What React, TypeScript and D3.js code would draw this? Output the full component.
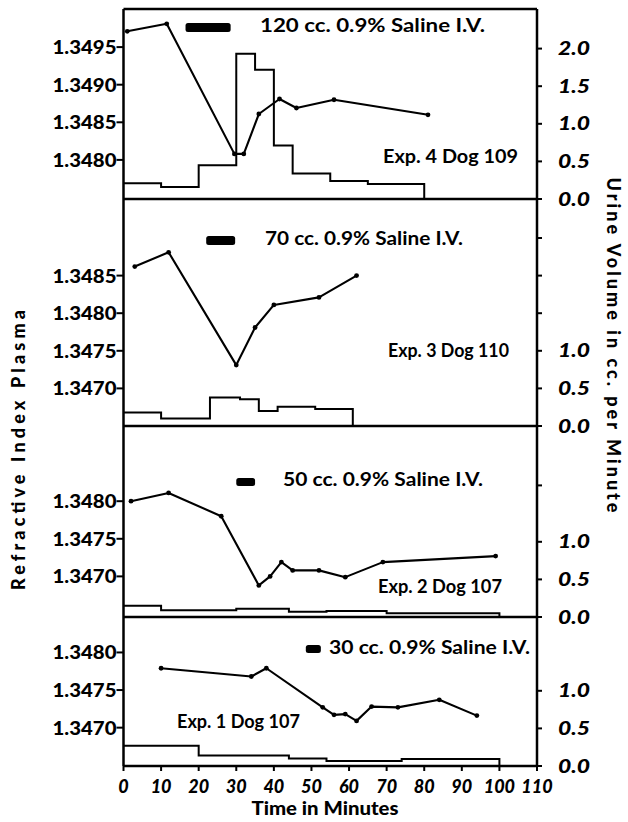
import React from "react";
import * as d3 from "d3";

// ---------- data ----------
const timeTicks = [0, 10, 20, 30, 40, 50, 60, 70, 80, 90, 100, 110];

// Exp. 4 Dog 109
const exp4Times = [1, 11.5, 29.5, 32, 36, 41.5, 46, 56, 81];
const exp4Refractive = [1.34971, 1.34981, 1.34808, 1.34808, 1.34861, 1.34881, 1.34869, 1.3488, 1.3486];
const exp4UrineEdges = [0, 10, 20, 30, 35, 40, 45, 55, 65, 80];
const exp4Urine = [0.21, 0.16, 0.45, 1.93, 1.72, 0.71, 0.34, 0.24, 0.2];
const exp4Infusion = [16.5, 28.5];
const exp4RefTicks = [1.348, 1.3485, 1.349, 1.3495];
const exp4UrineTicks = [0, 0.5, 1, 1.5, 2];
const exp4UrineLabels = ["0.0", "0.5", "1.0", "1.5", "2.0"];

// Exp. 3 Dog 110
const exp3Times = [3, 12, 30, 35, 40, 52, 62];
const exp3Refractive = [1.34862, 1.34881, 1.34731, 1.34781, 1.34811, 1.34821, 1.3485];
const exp3UrineEdges = [0, 10, 23, 31, 36, 41, 51, 61];
const exp3Urine = [0.18, 0.1, 0.38, 0.355, 0.2, 0.257, 0.226];
const exp3Infusion = [22, 29.7];
const exp3RefTicks = [1.347, 1.3475, 1.348, 1.3485];
const exp3UrineTicks = [0, 0.5, 1, 1.5, 2, 2.5];
const exp3UrineLabels = ["0.0", "0.5", "1.0", "", "", ""];

// Exp. 2 Dog 107
const exp2Times = [2, 12, 26, 36, 39, 42, 45, 52, 59, 69, 99];
const exp2Refractive = [1.348, 1.34811, 1.3478, 1.34688, 1.347, 1.34719, 1.34708, 1.34708, 1.34699, 1.34719, 1.34727];
const exp2UrineEdges = [0, 10, 30, 44, 54, 70, 100];
const exp2Urine = [0.15, 0.09, 0.11, 0.07, 0.08, 0.05];
const exp2Infusion = [30, 35];
const exp2RefTicks = [1.347, 1.3475, 1.348];
const exp2UrineTicks = [0, 0.5, 1, 1.75];
const exp2UrineLabels = ["0.0", "0.5", "1.0", ""];

// Exp. 1 Dog 107
const exp1Times = [10, 34, 38, 53, 56, 59, 62, 66, 73, 84, 94];
const exp1Refractive = [1.34779, 1.34768, 1.34779, 1.34727, 1.34717, 1.34718, 1.34709, 1.34728, 1.34727, 1.34737, 1.34716];
const exp1UrineEdges = [0, 20, 44, 54, 74, 100];
const exp1Urine = [0.27, 0.14, 0.1, 0.067, 0.093];
const exp1Infusion = [48.5, 52.5];
const exp1RefTicks = [1.347, 1.3475, 1.348];
const exp1UrineTicks = [0, 0.5, 1];
const exp1UrineLabels = ["0.0", "0.5", "1.0"];

const salineLabels = ["120 cc. 0.9% Saline I.V.", "70 cc. 0.9% Saline I.V.", "50 cc. 0.9% Saline I.V.", "30 cc. 0.9% Saline I.V."];
const expLabels = ["Exp. 4 Dog 109", "Exp. 3 Dog 110", "Exp. 2 Dog 107", "Exp. 1 Dog 107"];

// ---------- layout ----------
const W = 628;
const H = 822;
const X0 = 123.5;
const X1 = 537;
const PX = 75.2; // px per 1.0 cc/min and per 0.001 refractive index
const FONT = "Lato, 'DejaVu Sans', sans-serif";

const panelLayout = [
  { top: 9, bottom: 199, refBase: 1.34748, barY: 23, barH: 9, salX: 260, salY: 32, salLen: 225, expX: 383, expY: 163, expLen: 135 },
  { top: 199, bottom: 426, refBase: 1.3465, barY: 236, barH: 9, salX: 265, salY: 245, salLen: 198, expX: 388, expY: 357, expLen: 121 },
  { top: 426, bottom: 617, refBase: 1.34646, barY: 478, barH: 8, salX: 283, salY: 486, salLen: 200, expX: 378, expY: 593, expLen: 124 },
  { top: 617, bottom: 766, refBase: 1.34649, barY: 645, barH: 8, salX: 329, salY: 654, salLen: 201, expX: 177, expY: 728, expLen: 123 },
];

const panelData = [
  { times: exp4Times, ri: exp4Refractive, edges: exp4UrineEdges, urine: exp4Urine, inf: exp4Infusion, riTicks: exp4RefTicks, uTicks: exp4UrineTicks, uLabels: exp4UrineLabels },
  { times: exp3Times, ri: exp3Refractive, edges: exp3UrineEdges, urine: exp3Urine, inf: exp3Infusion, riTicks: exp3RefTicks, uTicks: exp3UrineTicks, uLabels: exp3UrineLabels },
  { times: exp2Times, ri: exp2Refractive, edges: exp2UrineEdges, urine: exp2Urine, inf: exp2Infusion, riTicks: exp2RefTicks, uTicks: exp2UrineTicks, uLabels: exp2UrineLabels },
  { times: exp1Times, ri: exp1Refractive, edges: exp1UrineEdges, urine: exp1Urine, inf: exp1Infusion, riTicks: exp1RefTicks, uTicks: exp1UrineTicks, uLabels: exp1UrineLabels },
];

const x = d3.scaleLinear().domain([0, 110]).range([X0, X1]);

function Panel({ i }: { i: number }) {
  const L = panelLayout[i];
  const D = panelData[i];
  const hgt = L.bottom - L.top;
  const yRI = d3.scaleLinear().domain([L.refBase, L.refBase + (hgt / PX) * 0.001]).range([L.bottom, L.top]);
  const yU = d3.scaleLinear().domain([0, hgt / PX]).range([L.bottom, L.top]);

  const pts: [number, number][] = D.times.map((t, k) => [x(t), yRI(D.ri[k])]);
  const line = d3.line()(pts) || "";

  const stepPts: [number, number][] = [];
  D.urine.forEach((v, k) => {
    stepPts.push([x(D.edges[k]), yU(v)]);
    stepPts.push([x(D.edges[k + 1]), yU(v)]);
  });
  stepPts.push([x(D.edges[D.edges.length - 1]), yU(0)]);
  const step = d3.line()(stepPts) || "";

  return (
    <g>
      <path d={step} fill="none" stroke="#000" strokeWidth={2} strokeLinejoin="miter" />
      <path d={line} fill="none" stroke="#000" strokeWidth={2.1} strokeLinejoin="round" />
      {pts.map((p, k) => (
        <circle key={k} cx={p[0]} cy={p[1]} r={2.4} fill="#000" />
      ))}
      <rect x={x(D.inf[0])} y={L.barY} width={x(D.inf[1]) - x(D.inf[0])} height={L.barH} rx={2.5} fill="#000" />
      <text x={L.salX} y={L.salY} fontFamily={FONT} fontWeight={700} fontSize={19} textLength={L.salLen} lengthAdjust="spacingAndGlyphs">{salineLabels[i]}</text>
      <text x={L.expX} y={L.expY} fontFamily={FONT} fontWeight={700} fontSize={19} textLength={L.expLen} lengthAdjust="spacingAndGlyphs">{expLabels[i]}</text>
      {/* left ticks */}
      {D.riTicks.map((t) => (
        <g key={"l" + t}>
          <line x1={X0 - 7} x2={X0} y1={yRI(t)} y2={yRI(t)} stroke="#000" strokeWidth={2} />
          <text x={X0 - 7} y={yRI(t) + 7} textAnchor="end" fontFamily={FONT} fontWeight={900} fontSize={19} textLength={64} lengthAdjust="spacingAndGlyphs">{t.toFixed(4)}</text>
        </g>
      ))}
      {/* right ticks */}
      {D.uTicks.map((t, k) => (
        <g key={"r" + t}>
          <line x1={X1} x2={X1 + 5} y1={yU(t)} y2={yU(t)} stroke="#000" strokeWidth={2} />
          {D.uLabels[k] && (
            <text x={558} y={yU(t) + 6.5} fontFamily={FONT} fontWeight={900} fontStyle="italic" fontSize={18} textLength={32} lengthAdjust="spacingAndGlyphs">{D.uLabels[k]}</text>
          )}
        </g>
      ))}
      {/* panel baseline */}
      <line x1={X0} x2={X1} y1={L.bottom} y2={L.bottom} stroke="#000" strokeWidth={2.5} />
    </g>
  );
}

export default function App() {
  const top = panelLayout[0].top;
  const bottom = panelLayout[3].bottom;
  return (
    <svg width={W} height={H} style={{ position: "absolute", left: 0, top: 0, background: "#fff" }}>
      <rect x={0} y={0} width={W} height={H} fill="#fff" />
      {panelLayout.map((_, i) => (
        <Panel key={i} i={i} />
      ))}
      {/* frame */}
      <line x1={X0} x2={X1} y1={top} y2={top} stroke="#000" strokeWidth={2.5} />
      <line x1={X0} x2={X0} y1={top} y2={bottom} stroke="#000" strokeWidth={2.5} />
      <line x1={X1} x2={X1} y1={top} y2={bottom} stroke="#000" strokeWidth={2.5} />
      {/* x ticks */}
      {timeTicks.map((t) => (
        <g key={t}>
          <line x1={x(t)} x2={x(t)} y1={bottom} y2={bottom + 5} stroke="#000" strokeWidth={2} />
          <text x={x(t)} y={793} textAnchor="middle" fontFamily={FONT} fontWeight={900} fontStyle="italic" fontSize={18}>{t}</text>
        </g>
      ))}
      <text x={325} y={815} textAnchor="middle" fontFamily={FONT} fontWeight={900} fontSize={18} textLength={147} lengthAdjust="spacingAndGlyphs">Time in Minutes</text>
      <text transform="translate(25,450) rotate(-90)" textAnchor="middle" fontFamily={FONT} fontWeight={900} fontSize={18} textLength={280} lengthAdjust="spacing">Refractive Index Plasma</text>
      <text transform="translate(607,345) rotate(90)" textAnchor="middle" fontFamily={FONT} fontWeight={900} fontSize={18} textLength={335} lengthAdjust="spacing">Urine Volume in cc. per Minute</text>
    </svg>
  );
}
